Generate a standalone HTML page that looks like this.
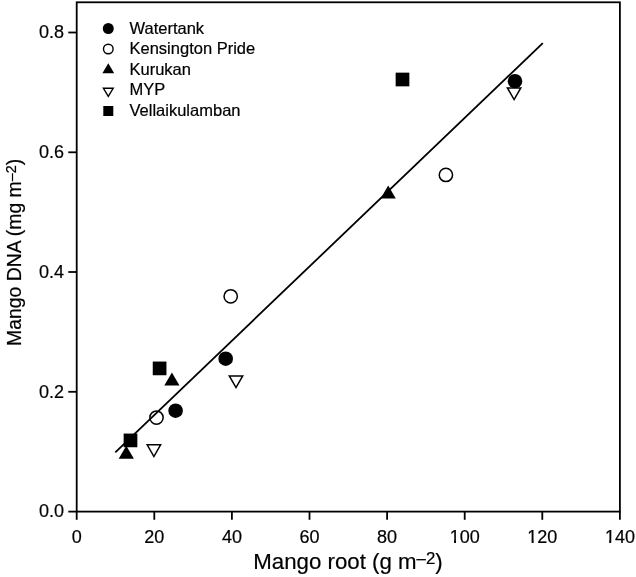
<!DOCTYPE html>
<html>
<head>
<meta charset="utf-8">
<style>
html,body{margin:0;padding:0;background:#fff;}
svg{display:block;filter:grayscale(1);}
text{font-family:"Liberation Sans",sans-serif;fill:#000;stroke:#000;stroke-width:0.2px;}
</style>
</head>
<body>
<svg width="636" height="577" viewBox="0 0 636 577">
<rect x="0" y="0" width="636" height="577" fill="#fff"/>
<!-- frame -->
<rect x="76.7" y="2.3" width="543.2" height="509.3" fill="none" stroke="#000" stroke-width="1.8"/>
<!-- y ticks -->
<g stroke="#000" stroke-width="1.8">
<line x1="68.3" y1="511.6" x2="76.7" y2="511.6"/>
<line x1="68.3" y1="391.8" x2="76.7" y2="391.8"/>
<line x1="68.3" y1="272.0" x2="76.7" y2="272.0"/>
<line x1="68.3" y1="152.3" x2="76.7" y2="152.3"/>
<line x1="68.3" y1="32.5" x2="76.7" y2="32.5"/>
<!-- x ticks -->
<line x1="76.7" y1="511.6" x2="76.7" y2="519.8"/>
<line x1="154.3" y1="511.6" x2="154.3" y2="519.8"/>
<line x1="231.9" y1="511.6" x2="231.9" y2="519.8"/>
<line x1="309.5" y1="511.6" x2="309.5" y2="519.8"/>
<line x1="387.1" y1="511.6" x2="387.1" y2="519.8"/>
<line x1="464.7" y1="511.6" x2="464.7" y2="519.8"/>
<line x1="542.3" y1="511.6" x2="542.3" y2="519.8"/>
<line x1="619.9" y1="511.6" x2="619.9" y2="519.8"/>
</g>
<!-- y tick labels -->
<g font-size="18" text-anchor="end">
<text x="64" y="517.3">0.0</text>
<text x="64" y="397.5">0.2</text>
<text x="64" y="277.7">0.4</text>
<text x="64" y="158.0">0.6</text>
<text x="64" y="38.2">0.8</text>
</g>
<!-- x tick labels -->
<g font-size="18" text-anchor="middle">
<text x="76.7" y="542.9">0</text>
<text x="154.3" y="542.9">20</text>
<text x="231.9" y="542.9">40</text>
<text x="309.5" y="542.9">60</text>
<text x="387.1" y="542.9">80</text>
<text x="464.7" y="542.9">100</text>
<text x="542.3" y="542.9">120</text>
<text x="619.9" y="542.9">140</text>
</g>
<!-- remove foot serif of 1 -->
<rect x="450.10" y="540.6" width="9.8" height="3.1" fill="#fff"/>
<rect x="454.02" y="540.2" width="2.0" height="2.75" fill="#000"/>
<rect x="527.70" y="540.6" width="9.8" height="3.1" fill="#fff"/>
<rect x="531.62" y="540.2" width="2.0" height="2.75" fill="#000"/>
<rect x="605.30" y="540.6" width="9.8" height="3.1" fill="#fff"/>
<rect x="609.22" y="540.2" width="2.0" height="2.75" fill="#000"/>
<!-- axis labels -->
<text x="253.3" y="569.2" font-size="22.25">Mango root (g m<tspan font-size="16.8" dy="-4.8">–2</tspan><tspan dy="4.8">)</tspan></text>
<text transform="translate(21,345.9) rotate(-90)" font-size="19.38">Mango DNA (mg m<tspan font-size="14.4" dy="-4.7">–2</tspan><tspan dy="4.7">)</tspan></text>
<!-- legend -->
<circle cx="108.3" cy="28.5" r="5.5" fill="#000"/>
<circle cx="108.3" cy="49" r="4.8" fill="#fff" stroke="#000" stroke-width="1.4"/>
<polygon points="102.4,73.2 114.2,73.2 108.3,63.2" fill="#000"/>
<polygon points="103.4,88.3 113.2,88.3 108.3,96.4" fill="#fff" stroke="#000" stroke-width="1.4"/>
<rect x="103.3" y="106" width="10" height="10" fill="#000"/>
<g font-size="16.5">
<text x="129.5" y="33.9">Watertank</text>
<text x="129.5" y="54.3">Kensington Pride</text>
<text x="129.5" y="74.7">Kurukan</text>
<text x="129.5" y="95.1">MYP</text>
<text x="129.5" y="115.5">Vellaikulamban</text>
</g>
<!-- data: filled circles -->
<g fill="#000">
<circle cx="175.6" cy="410.7" r="7.3"/>
<circle cx="225.7" cy="358.7" r="7.3"/>
<circle cx="515" cy="81.2" r="7.3"/>
</g>
<!-- open circles -->
<g fill="#fff" stroke="#000" stroke-width="1.5">
<circle cx="156.5" cy="417.6" r="6.65"/>
<circle cx="230.7" cy="296.3" r="6.65"/>
<circle cx="445.9" cy="174.9" r="6.65"/>
</g>
<!-- filled triangles -->
<g fill="#000">
<polygon points="118.7,458.7 133.9,458.7 126.3,445.7"/>
<polygon points="164.3,385.6 179.5,385.6 171.9,372.6"/>
<polygon points="380.6,198.4 395.8,198.4 388.2,185.4"/>
</g>
<!-- filled squares -->
<g fill="#000">
<rect x="123.65" y="433.55" width="13.7" height="13.7"/>
<rect x="152.75" y="361.55" width="13.7" height="13.7"/>
<rect x="395.65" y="72.65" width="13.7" height="13.7"/>
</g>
<!-- open triangles down -->
<g fill="#fff" stroke="#000" stroke-width="1.5">
<polygon points="147.2,444.8 160.6,444.8 153.9,456.5"/>
<polygon points="229.3,375.9 242.7,375.9 236.0,387.6"/>
<polygon points="507.4,87.9 520.8,87.9 514.1,99.6"/>
</g>
<!-- regression line -->
<line x1="115.3" y1="452.4" x2="542.8" y2="43.1" stroke="#000" stroke-width="1.8"/>
</svg>
</body>
</html>
